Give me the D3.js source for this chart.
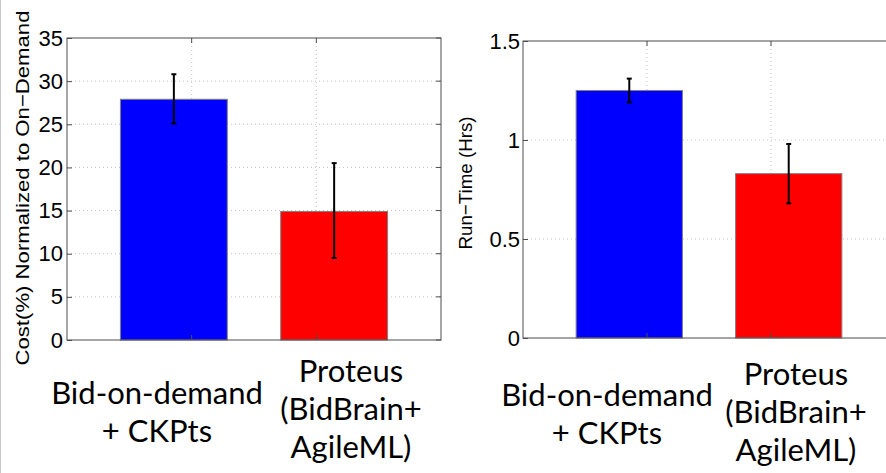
<!DOCTYPE html>
<meta charset="utf-8">
<script src="https://d3js.org/d3.v7.min.js"></script>
<style>
    body { margin: 0; background: #fff; }
    .tick text { font-family: "Liberation Sans", Arial, sans-serif; font-size: 22px; fill: #000; }
    .xlab { font-family: Lato, "Open Sans", sans-serif; font-size: 31px; fill: #000; }
    .ytitle { font-family: "Liberation Sans", Arial, sans-serif; font-size: 19px; fill: #000; }
</style>
<div id="my_dataviz"></div>
<script>

// categories (multi-line labels)
var categories = ["Bid-on-demand + CKPts", "Proteus (BidBrain+ AgileML)"];
var labelLines = [["Bid-on-demand", "+ CKPts"], ["Proteus", "(BidBrain+", "AgileML)"]];

// left panel: cost
var costMean = [27.9, 14.9];
var costLow  = [25.1, 9.5];
var costHigh = [30.8, 20.5];
var costTicks = [0, 5, 10, 15, 20, 25, 30, 35];

// right panel: run time
var timeMean = [1.25, 0.83];
var timeLow  = [1.19, 0.68];
var timeHigh = [1.31, 0.98];
var timeTicks = [0, 0.5, 1, 1.5];

var barColors = ["#0000ff", "#ff0000"];

var svg = d3.select("#my_dataviz")
    .append("svg")
    .attr("width", 886)
    .attr("height", 473);

// thin border at the very left of the picture
svg.append("line")
    .attr("x1", 0.5).attr("x2", 0.5)
    .attr("y1", 0).attr("y2", 473)
    .style("stroke", "#c8c8c8");

function drawPanel(p) {
    var g = svg.append("g");

    var x = d3.scaleBand()
        .domain(categories)
        .range([p.left, p.right])
        .paddingInner(1/3)
        .paddingOuter(1/3);

    var y = d3.scaleLinear()
        .domain([0, p.ticks[p.ticks.length - 1]])
        .range([p.bottom, p.top]);

    // grid position scale (matlab x ticks at 1 and 2)
    var gx = d3.scaleLinear().domain([0, 3]).range([p.left, p.right]);

    // horizontal grid
    g.selectAll(".hgrid")
        .data(p.ticks.slice(1, -1))
        .enter().append("line")
        .attr("x1", p.left).attr("x2", p.right)
        .attr("y1", function(d) { return y(d); })
        .attr("y2", function(d) { return y(d); })
        .style("stroke", "#c4c4c4")
        .style("stroke-dasharray", "1,3");

    // vertical grid
    g.selectAll(".vgrid")
        .data([1, 2])
        .enter().append("line")
        .attr("x1", function(d) { return gx(d); })
        .attr("x2", function(d) { return gx(d); })
        .attr("y1", p.top).attr("y2", p.bottom)
        .style("stroke", "#c4c4c4")
        .style("stroke-dasharray", "1,3");

    // bars
    g.selectAll(".bar")
        .data(p.mean)
        .enter().append("rect")
        .attr("x", function(d, i) { return x(categories[i]); })
        .attr("y", function(d) { return y(d); })
        .attr("width", x.bandwidth())
        .attr("height", function(d) { return y(0) - y(d); })
        .style("fill", function(d, i) { return barColors[i]; })
        .style("stroke", "#808080")
        .style("stroke-width", 1);

    // error bars
    var cx = function(i) { return x(categories[i]) + x.bandwidth() / 2; };
    p.mean.forEach(function(m, i) {
        g.append("line")
            .attr("x1", cx(i)).attr("x2", cx(i))
            .attr("y1", y(p.low[i])).attr("y2", y(p.high[i]))
            .style("stroke", "#000").style("stroke-width", 2);
        [p.low[i], p.high[i]].forEach(function(v) {
            g.append("line")
                .attr("x1", cx(i) - 2.5).attr("x2", cx(i) + 2.5)
                .attr("y1", y(v)).attr("y2", y(v))
                .style("stroke", "#000").style("stroke-width", 2);
        });
    });

    // box
    g.append("rect")
        .attr("x", p.left).attr("y", p.top)
        .attr("width", p.right - p.left).attr("height", p.bottom - p.top)
        .style("fill", "none")
        .style("stroke", "#4d4d4d")
        .style("stroke-width", 1);

    // y axis with inward ticks
    var ya = g.append("g")
        .attr("transform", "translate(" + p.left + ",0)")
        .call(d3.axisLeft(y).tickValues(p.ticks).tickSize(-5).tickPadding(p.pad).tickSizeOuter(0)
            .tickFormat(function(d) { return d; }));
    ya.select(".domain").remove();
    ya.selectAll(".tick line").style("stroke", "#4d4d4d");

    // mirrored ticks on the right side
    g.selectAll(".rtick")
        .data(p.ticks)
        .enter().append("line")
        .attr("x1", p.right - 5).attr("x2", p.right)
        .attr("y1", function(d) { return y(d); })
        .attr("y2", function(d) { return y(d); })
        .style("stroke", "#4d4d4d");

    // x ticks top and bottom
    [1, 2].forEach(function(d) {
        g.append("line").attr("x1", gx(d)).attr("x2", gx(d))
            .attr("y1", p.top).attr("y2", p.top + 5).style("stroke", "#4d4d4d");
        g.append("line").attr("x1", gx(d)).attr("x2", gx(d))
            .attr("y1", p.bottom - 5).attr("y2", p.bottom).style("stroke", "#4d4d4d");
    });

    // y title
    g.append("text")
        .attr("class", "ytitle")
        .attr("transform", "translate(" + p.titleX + "," + p.titleY + ") rotate(-90)")
        .attr("text-anchor", "middle")
        .attr("textLength", p.titleLen)
        .attr("lengthAdjust", "spacingAndGlyphs")
        .text(p.title);

    // category labels
    labelLines.forEach(function(lines, i) {
        lines.forEach(function(t, j) {
            g.append("text")
                .attr("class", "xlab")
                .attr("x", p.labX[i])
                .attr("y", p.labY[i] + j * 38)
                .attr("text-anchor", "middle")
                .text(t);
        });
    });
}

drawPanel({
    left: 67, right: 441, top: 38, bottom: 340,
    mean: costMean, low: costLow, high: costHigh, ticks: costTicks, pad: 4,
    title: "Cost(%) Normalized to On\u2212Demand", titleX: 29, titleY: 188, titleLen: 355,
    labX: [157, 351], labY: [404, 382]
});

drawPanel({
    left: 523, right: 895, top: 41, bottom: 338,
    mean: timeMean, low: timeLow, high: timeHigh, ticks: timeTicks, pad: 3,
    title: "Run\u2212Time (Hrs)", titleX: 472, titleY: 183, titleLen: 133,
    labX: [607, 796], labY: [406, 385]
});

</script>
